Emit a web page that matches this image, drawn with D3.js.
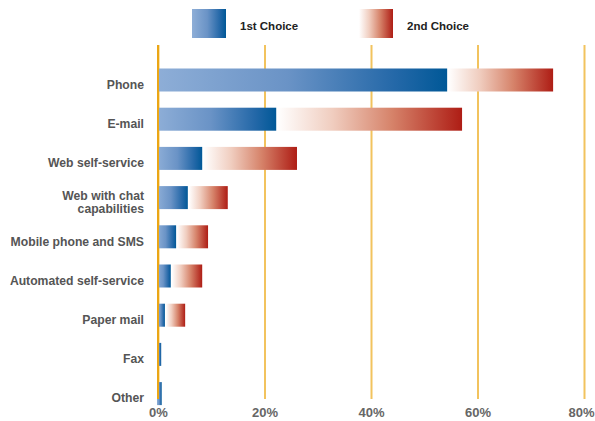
<!DOCTYPE html>
<html>
<head>
<meta charset="utf-8">
<script src="https://cdn.jsdelivr.net/npm/d3@7"></script>
<style>
  html, body { margin: 0; padding: 0; background: #fff; }
  svg { display: block; }
  text { font-family: "Liberation Sans", Arial, sans-serif; font-weight: bold; }
</style>
</head>
<body>
<svg id="chart" width="595" height="421"></svg>
<script>
// Preferred contact channels, share of respondents (%)
const channels = ["Phone", "E-mail", "Web self-service", "Web with chat capabilities",
  "Mobile phone and SMS", "Automated self-service", "Paper mail", "Fax", "Other"];
const firstChoice  = [54.3, 22.2, 8.3, 5.6, 3.4, 2.4, 1.3, 0.6, 0.7];
const secondChoice = [19.9, 34.9, 17.8, 7.5, 6.0, 5.9, 3.8, 0, 0];
const seriesNames = ["1st Choice", "2nd Choice"];
const xTicks = [0, 20, 40, 60, 80];
const labelLines = { "Web with chat capabilities": ["Web with chat", "capabilities"] };

const svg = d3.select("#chart");
const plot = { left: 158, right: 584, top: 45, bottom: 399 };

const x = d3.scaleLinear().domain([0, 80]).range([plot.left, plot.right]);
const y = d3.scaleBand().domain(channels)
  .range([68.5, 68.5 + 39.2 * channels.length - 16.2])
  .paddingInner(16.2 / 39.2).paddingOuter(0);

// Gradients
const defs = svg.append("defs");
function gradient(id, stops) {
  const g = defs.append("linearGradient").attr("id", id)
    .attr("x1", "0%").attr("x2", "100%").attr("y1", "0%").attr("y2", "0%");
  stops.forEach(([o, c]) => g.append("stop").attr("offset", o).attr("stop-color", c));
}
gradient("gBlue", [[0, "#8eaed7"], [0.45, "#6a93c6"], [0.82, "#2468a8"], [1, "#005897"]]);
gradient("gRed", [[0, "#ffffff"], [0.3, "#f0cdbf"], [0.62, "#d6836a"], [1, "#ae1d15"]]);

// Gridlines + tick labels
const axis = d3.axisBottom(x).tickValues(xTicks).tickFormat(d => d + "%")
  .tickSizeInner(-(plot.bottom - plot.top)).tickSizeOuter(0).tickPadding(9);
const gx = svg.append("g").attr("transform", `translate(0,${plot.bottom})`).call(axis);
gx.select(".domain").remove();
gx.selectAll(".tick line").attr("stroke", "#f2c35e").attr("stroke-width", 2);
gx.selectAll(".tick text").attr("fill", "#666").style("font-size", "13px")
  .attr("dx", d => d === xTicks[xTicks.length - 1] ? -3 : 0);

// Bars
const rows = channels.map((c, i) => ({ c, a: firstChoice[i], b: secondChoice[i] }));
const bars = svg.append("g");
bars.selectAll("rect.first").data(rows).join("rect").attr("class", "first")
  .attr("x", x(0) - 1).attr("y", d => y(d.c))
  .attr("width", d => x(d.a) - x(0) + 1).attr("height", y.bandwidth())
  .attr("fill", "url(#gBlue)");
bars.selectAll("rect.second").data(rows.filter(d => d.b > 0)).join("rect").attr("class", "second")
  .attr("x", d => x(d.a) + 1).attr("y", d => y(d.c))
  .attr("width", d => x(d.a + d.b) - x(d.a) - 1).attr("height", y.bandwidth())
  .attr("fill", "url(#gRed)");

// Zero line on top
svg.append("line").attr("x1", x(0)).attr("x2", x(0))
  .attr("y1", plot.top).attr("y2", plot.bottom)
  .attr("stroke", "#eba615").attr("stroke-width", 2);

// Category labels
const labels = svg.append("g").selectAll("text").data(channels).join("text")
  .attr("x", plot.left - 14)
  .attr("y", d => y(d) + y.bandwidth() / 2 + 4.5)
  .attr("text-anchor", "end").attr("fill", "#555").style("font-size", "12.2px");
labels.each(function (d) {
  const lines = labelLines[d] || [d];
  const t = d3.select(this);
  lines.forEach((ln, i) => {
    t.append("tspan").attr("x", plot.left - 14)
      .attr("dy", i === 0 ? (0.35 - (lines.length - 1) * 0.55) + "em" : "1.1em")
      .text(ln);
  });
});

// Legend
const legend = svg.append("g");
const legendX = [192, 359];
seriesNames.forEach((name, i) => {
  legend.append("rect").attr("x", legendX[i]).attr("y", 9).attr("width", 34).attr("height", 29)
    .attr("fill", i === 0 ? "url(#gBlue)" : "url(#gRed)");
  legend.append("text").attr("x", legendX[i] + 48).attr("y", 27)
    .attr("dominant-baseline", "middle").attr("fill", "#222").style("font-size", "11.5px")
    .text(name);
});
</script>
</body>
</html>
